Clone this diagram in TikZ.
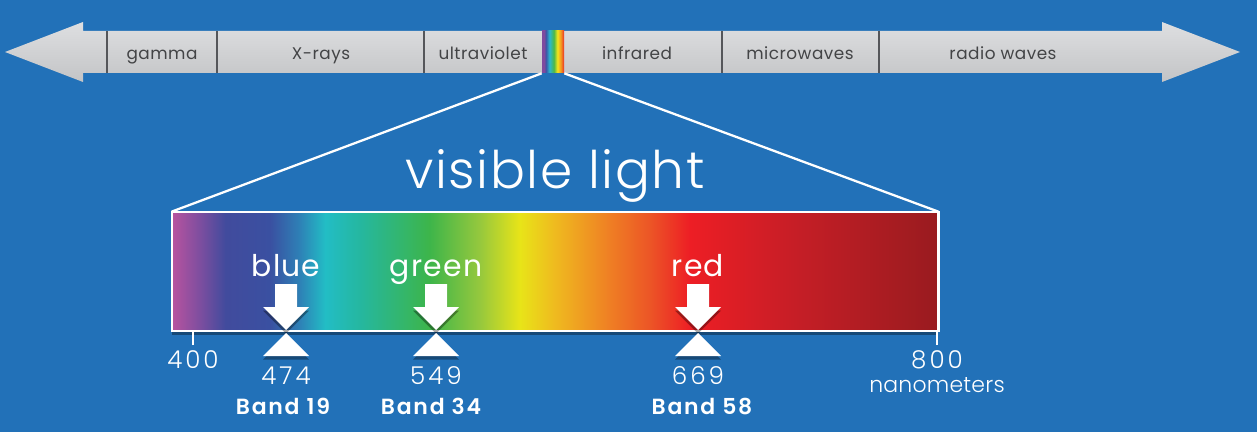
\documentclass[tikz,border=0pt]{standalone}
\usepackage{fontspec}
\setmainfont{Poppins}
\newfontfamily\lightfont{Poppins Light}
\newfontfamily\semifont{Poppins SemiBold}
\usetikzlibrary{positioning,fit,shadows}

\definecolor{skyback}{HTML}{2271B8}
\definecolor{bartop}{HTML}{DEDFE1}
\definecolor{barbot}{HTML}{C3C4C6}
\definecolor{bartext}{HTML}{434446}
\definecolor{divline}{HTML}{55565A}
% visible spectrum
\definecolor{spA}{HTML}{B8539F}
\definecolor{spB}{HTML}{7E4E9F}
\definecolor{spC}{HTML}{414B9D}
\definecolor{spD}{HTML}{3A50A1}
\definecolor{spE}{HTML}{2E80B6}
\definecolor{spF}{HTML}{22BDC5}
\definecolor{spG}{HTML}{25B79F}
\definecolor{spH}{HTML}{3DB54A}
\definecolor{spI}{HTML}{96C83D}
\definecolor{spJ}{HTML}{E8E418}
\definecolor{spK}{HTML}{EFBA1F}
\definecolor{spL}{HTML}{EF7E24}
\definecolor{spM}{HTML}{EC5526}
\definecolor{spN}{HTML}{ED1E25}
\definecolor{spO}{HTML}{C41E26}
\definecolor{spP}{HTML}{991B1F}
% small strip on the bar
\definecolor{rbA}{HTML}{7F4A9E}
\definecolor{rbB}{HTML}{3C55A5}
\definecolor{rbC}{HTML}{2BB8D0}
\definecolor{rbD}{HTML}{4DB848}
\definecolor{rbE}{HTML}{F4E51C}
\definecolor{rbF}{HTML}{F29521}
\definecolor{rbG}{HTML}{EC2E24}

\pgfdeclarehorizontalshading{visspec}{100bp}{color(0bp)=(spA); color(25bp)=(spA);
  color(26.8bp)=(spB); color(28.5bp)=(spC); color(31.4bp)=(spD); color(33.3bp)=(spE);
  color(35bp)=(spF); color(37.3bp)=(spG); color(41.8bp)=(spH); color(45.1bp)=(spI);
  color(47.7bp)=(spJ); color(50bp)=(spK); color(53.6bp)=(spL); color(56.2bp)=(spM);
  color(58.8bp)=(spN); color(66bp)=(spO); color(75bp)=(spP); color(100bp)=(spP)}
\pgfdeclarehorizontalshading{rainbow}{100bp}{color(0bp)=(rbA); color(25bp)=(rbA);
  color(30bp)=(rbA); color(34bp)=(rbB); color(42bp)=(rbC); color(52bp)=(rbD);
  color(60bp)=(rbE); color(68bp)=(rbF); color(75bp)=(rbG); color(100bp)=(rbG)}

\tikzset{softshadow/.style={drop shadow={shadow xshift=0pt, shadow yshift=-2pt,
                           opacity=0.35, fill=black}}}

\begin{document}
\begin{tikzpicture}[x=0.02cm, y=-0.02cm,
  segtext/.style={text=bartext, font=\fontsize{9.6}{11}\selectfont\addfontfeature{LetterSpace=3}, anchor=base},
  divider/.style={draw=divline, line width=0.9pt},
  zoomline/.style={draw=white, line width=1.3pt},
  colname/.style={text=white, font=\fontsize{17}{20}\selectfont\addfontfeature{LetterSpace=4}, anchor=base},
  wavelen/.style={text=white, font=\lightfont\fontsize{14}{16}\selectfont\addfontfeature{LetterSpace=12}, anchor=base},
  bandname/.style={text=white, font=\semifont\fontsize{12.5}{15}\selectfont\addfontfeature{LetterSpace=8}, anchor=base},
  marker/.style={fill=white, softshadow},
  tickline/.style={draw=white, line width=1.3pt}]

\fill[skyback] (0,0) rectangle (1257,432);
\useasboundingbox (0,0) rectangle (1257,432);

% electromagnetic spectrum bar
\shade[top color=bartop, bottom color=barbot] (5,52) -- (83,22) -- (83,31) -- (1162,31)
  -- (1162,22) -- (1240,52) -- (1162,82) -- (1162,73) -- (83,73) -- (83,82) -- cycle;
\draw[divider] (107,31) -- (107,73);
\draw[divider] (217,31) -- (217,73);
\draw[divider] (424,31) -- (424,73);
\draw[divider] (722,31) -- (722,73);
\draw[divider] (879,31) -- (879,73);
\node[inner sep=0, fit={(542,31) (564,73)}, shading=rainbow] (strip) {};

\node[segtext] (gamma) at (162,60) {gamma};
\node[segtext] (xrays) at (321,60) {X-rays};
\node[segtext] (uv) at (483,60) {ultraviolet};
\node[segtext] (ir) at (637,60) {infrared};
\node[segtext] (micro) at (800,60) {microwaves};
\node[segtext] (radio) at (1003,60) {radio waves};

% visible part
\node[text=white, font=\lightfont\fontsize{29.5}{34}\selectfont\addfontfeature{LetterSpace=3}, anchor=base] (vislight) at (555,189) {visible light};
\node[inner sep=0, fit={(172,212) (938,331)}, shading=visspec, softshadow] (spec) {};
\draw[white, line width=1.3pt] (spec.south west) rectangle (spec.north east);
\draw[zoomline] (strip.south west) -- (spec.north west);
\draw[zoomline] (strip.south east) -- (spec.north east);

\node[colname] (blue) at (286,276) {blue};
\node[colname] (green) at (436,276) {green};
\node[colname] (red) at (698,276) {red};

% markers
\begin{scope}[shift={(286,0)}]
\fill[marker] (-11,284) -- (11,284) -- (11,307) -- (23,307) -- (0,330) -- (-23,307) -- (-11,307) -- cycle;
\fill[marker] (0,333) -- (23,356) -- (-23,356) -- cycle;
\end{scope}
\begin{scope}[shift={(436,0)}]
\fill[marker] (-11,284) -- (11,284) -- (11,307) -- (23,307) -- (0,330) -- (-23,307) -- (-11,307) -- cycle;
\fill[marker] (0,333) -- (23,356) -- (-23,356) -- cycle;
\end{scope}
\begin{scope}[shift={(698,0)}]
\fill[marker] (-11,284) -- (11,284) -- (11,307) -- (23,307) -- (0,330) -- (-23,307) -- (-11,307) -- cycle;
\fill[marker] (0,333) -- (23,356) -- (-23,356) -- cycle;
\end{scope}

% scale
\coordinate (t400) at (193,345);
\coordinate (t800) at (937,345);
\draw[tickline] (t400) -- (t400 |- spec.south);
\draw[tickline] (t800) -- (t800 |- spec.south);
\node[wavelen] (w400) at (193,368) {400};
\node[wavelen] (w800) at (937,368) {800};
\node[wavelen, font=\lightfont\fontsize{12.5}{15}\selectfont\addfontfeature{LetterSpace=1}] (nm) at (937,392) {nanometers};

\node[wavelen] (w474) at (286,384) {474};
\node[wavelen] (w549) at (436,384) {549};
\node[wavelen] (w669) at (698,384) {669};
\node[bandname] (b19) at (283,414) {Band 19};
\node[bandname] (b34) at (431,414) {Band 34};
\node[bandname] (b58) at (702,414) {Band 58};
\end{tikzpicture}
\end{document}
